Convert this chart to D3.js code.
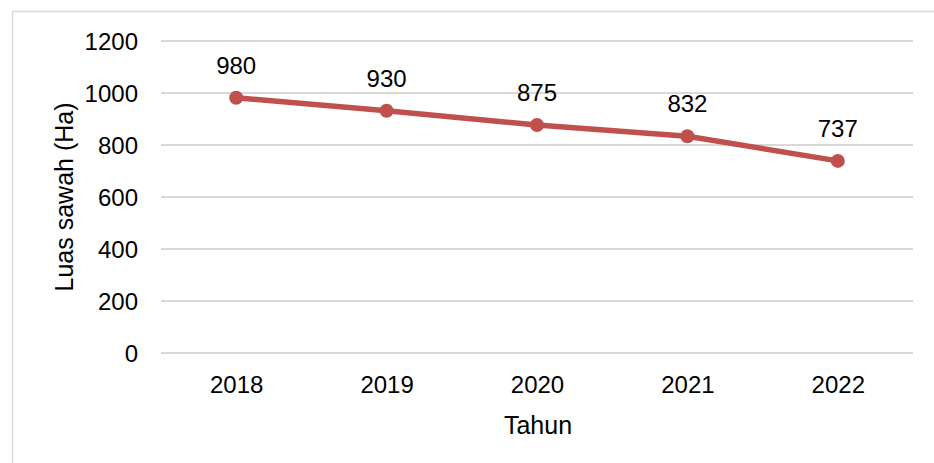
<!DOCTYPE html>
<html lang="id">
    <head>
        <meta charset="UTF-8">
        <title>Luas sawah</title>
        <script src="https://cdn.jsdelivr.net/npm/d3@7"></script>
        <style>
            body { margin: 0; background: #fff; }
            svg text { font-family: "Liberation Sans", Arial, sans-serif; fill: #000; }
        </style>
    </head>
    <body>
        <script>
            const years = ["2018", "2019", "2020", "2021", "2022"];
            const luasSawah = [980, 930, 875, 832, 737];
            const yTicks = [0, 200, 400, 600, 800, 1000, 1200];

            const w = 934, h = 463;
            const plot = { left: 161, right: 913, top: 40.5, bottom: 352.5 };

            const svg = d3.select("body")
                .append("svg")
                .attr("width", w)
                .attr("height", h);

            // outer chart border
            svg.append("rect")
                .attr("x", 12.5)
                .attr("y", 11.5)
                .attr("width", w)
                .attr("height", h)
                .attr("fill", "none")
                .attr("stroke", "#d9d9d9")
                .attr("stroke-width", 1.5);

            const xScale = d3.scalePoint()
                .domain(years)
                .range([plot.left, plot.right])
                .padding(0.5);

            const yScale = d3.scaleLinear()
                .domain([0, 1200])
                .range([plot.bottom, plot.top]);

            // gridlines
            svg.append("g")
                .attr("transform", "translate(" + plot.left + ",0)")
                .call(d3.axisLeft(yScale).tickValues(yTicks).tickSize(-(plot.right - plot.left)).tickFormat(""))
                .call(g => g.select(".domain").remove())
                .selectAll("line")
                .attr("stroke", "#d9d9d9")
                .attr("stroke-width", 2);

            // y tick labels
            svg.append("g")
                .attr("transform", "translate(" + 138 + ",0)")
                .call(d3.axisLeft(yScale).tickValues(yTicks).tickSize(0).tickPadding(0).tickFormat(d3.format("d")))
                .call(g => g.select(".domain").remove())
                .selectAll("text")
                .attr("font-size", 24)
                .attr("font-family", null)
                .attr("dy", "0.36em");

            // x tick labels
            svg.append("g")
                .attr("transform", "translate(0," + plot.bottom + ")")
                .call(d3.axisBottom(xScale).tickSize(0).tickPadding(0))
                .call(g => g.select(".domain").remove())
                .selectAll("text")
                .attr("font-size", 24)
                .attr("font-family", null)
                .attr("dy", null)
                .attr("y", 40.5);

            // axis titles
            svg.append("text")
                .attr("x", 538)
                .attr("y", 434)
                .attr("text-anchor", "middle")
                .attr("font-size", 25)
                .text("Tahun");

            svg.append("text")
                .attr("transform", "translate(73,197) rotate(-90)")
                .attr("text-anchor", "middle")
                .attr("font-size", 25)
                .text("Luas sawah (Ha)");

            const data = years.map((y, i) => ({ year: y, value: luasSawah[i] }));

            const line = d3.line()
                .x(d => xScale(d.year))
                .y(d => yScale(d.value));

            svg.append("path")
                .datum(data)
                .attr("d", line)
                .attr("fill", "none")
                .attr("stroke", "#c0504d")
                .attr("stroke-width", 5.5)
                .attr("stroke-linejoin", "round");

            svg.append("g")
                .selectAll("circle")
                .data(data)
                .enter()
                .append("circle")
                .attr("cx", d => xScale(d.year))
                .attr("cy", d => yScale(d.value))
                .attr("r", 7)
                .attr("fill", "#c0504d");

            svg.append("g")
                .selectAll("text")
                .data(data)
                .enter()
                .append("text")
                .attr("x", d => xScale(d.year))
                .attr("y", d => yScale(d.value) - 24)
                .attr("text-anchor", "middle")
                .attr("font-size", 24)
                .text(d => d.value);
        </script>
    </body>
</html>
